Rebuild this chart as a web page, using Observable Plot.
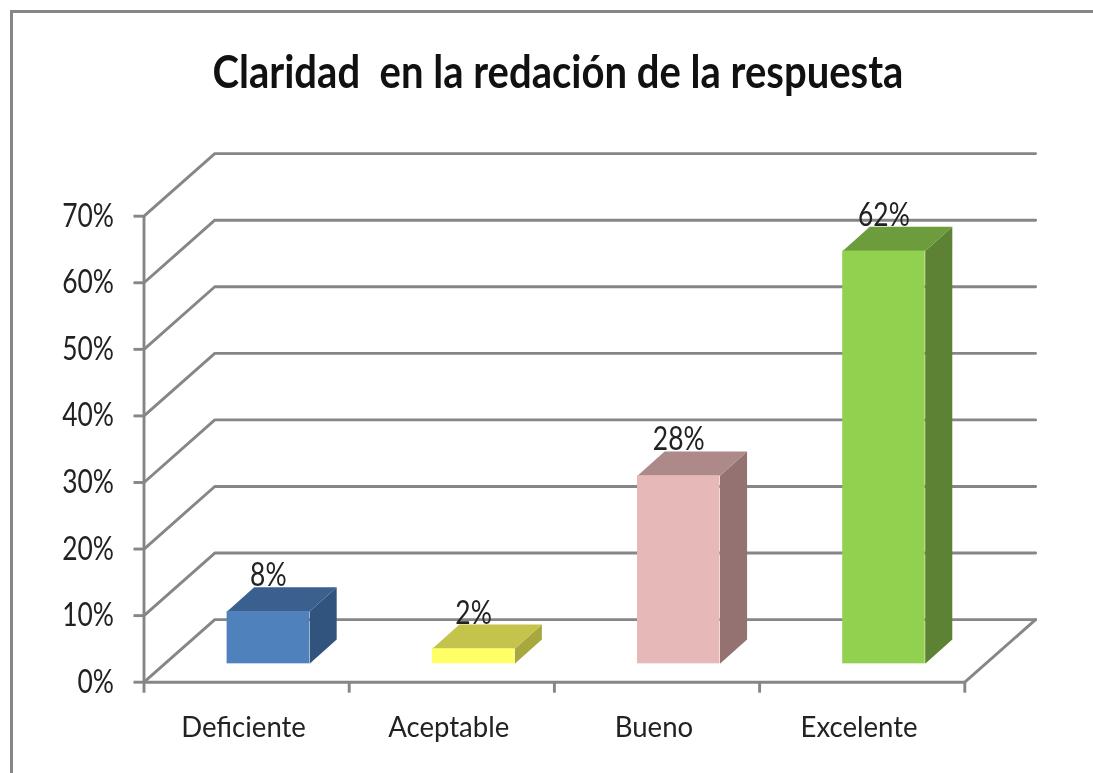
<!DOCTYPE html>
<html lang="es">
<head>
<meta charset="utf-8">
<script src="https://cdn.jsdelivr.net/npm/d3@7"></script>
<script src="https://cdn.jsdelivr.net/npm/@observablehq/plot@0.6"></script>
<style>
  html, body { margin: 0; padding: 0; background: #fff; overflow: hidden; }
  #page { position: relative; width: 1093px; height: 773px; overflow: hidden; filter: blur(0.5px); }
  #frame { position: absolute; left: 10px; top: 10px; width: 1200px; height: 900px;
           border-left: 3px solid #868686; border-top: 3px solid #868686; }
  #title { position: absolute; left: 0; top: -1px; width: 1115px; height: 115px;
           text-align: center; color: #111;
           font: bold 46px/144px Lato, sans-serif; }
  #title span { display: inline-block; white-space: pre; transform-origin: center; }
  #chart { position: absolute; left: 0; top: 115px; }
  svg { display: block; }
</style>
</head>
<body>
<div id="page">
  <div id="frame"></div>
  <div id="title"><span></span></div>
  <div id="chart"></div>
</div>
<script>
const titleText = "Claridad  en la redación de la respuesta";
const categories = ["Deficiente", "Aceptable", "Bueno", "Excelente"];
const values = [7.85, 2.25, 28.25, 62];
const barLabels = ["8%", "2%", "28%", "62%"];
const yTicks = [0, 10, 20, 30, 40, 50, 60, 70];
const xTicks = [0, 1, 2, 3, 4];
const frontColors = ["#4f81bd", "#ffff66", "#e6b8b7", "#92d050"];
const topColors = ["#3a6090", "#c4c44c", "#ad8a89", "#6d9c3c"];
const sideColors = ["#30547d", "#a8a83f", "#947272", "#5e8233"];

// 3D projection expressed in data units
const wallDx = 0.345, wallDy = 9.4;     // depth of the chart box
const barDx = 0.132, barDy = 3.65;      // depth of a bar
const barStart = 0.405, barEnd = 0.807; // bar extent inside a category
const barBase = 2.76;                   // bars stand on the middle of the floor
const grid = "#868686";
const lineWidth = 2.9;
const numberSize = 33, categorySize = 29;
const numberSquash = 0.8, categorySquash = 0.95, titleWidth = 691;

const titleSpan = document.querySelector("#title span");
titleSpan.textContent = titleText;

const marks = [];

// Wall and floor lines
yTicks.forEach(v => {
  marks.push(Plot.line([[0, v], [wallDx, v + wallDy], [4 + wallDx, v + wallDy]], {
    x: d => d[0], y: d => d[1], stroke: grid, strokeWidth: lineWidth
  }));
});
marks.push(Plot.line([[0, 0], [4, 0], [4 + wallDx, wallDy]], {
  x: d => d[0], y: d => d[1], stroke: grid, strokeWidth: lineWidth
}));
marks.push(Plot.ruleX([0], {y1: 0, y2: 70, stroke: grid, strokeWidth: lineWidth}));

// Bars: side, top, front
values.forEach((v, i) => {
  const x0 = i + barStart, x1 = i + barEnd, b = barBase, t = barBase + v;
  const poly = (pts, fill) => Plot.line(pts, {
    x: d => d[0], y: d => d[1], fill, stroke: "none"
  });
  marks.push(poly([[x1, b], [x1 + barDx, b + barDy], [x1 + barDx, t + barDy], [x1, t], [x1, b]], sideColors[i]));
  marks.push(poly([[x0, t], [x0 + barDx, t + barDy], [x1 + barDx, t + barDy], [x1, t], [x0, t]], topColors[i]));
  marks.push(Plot.rect([i], {x1: () => x0, x2: () => x1, y1: () => b, y2: () => t, fill: frontColors[i]}));
});

// Axes
marks.push(Plot.axisY({
  ticks: yTicks, tickFormat: d => d + "%", tickSize: 10, tickPadding: 20,
  stroke: grid, strokeWidth: lineWidth, fontSize: numberSize, color: "#222", label: null
}));
marks.push(Plot.axisX({
  ticks: xTicks, tickFormat: () => "", tickSize: 11,
  stroke: grid, strokeWidth: lineWidth, label: null
}));
marks.push(Plot.text(categories, {
  x: (_, i) => i + 0.485, y: () => 0, dy: 46, text: d => d,
  fontSize: categorySize, fill: "#222"
}));

// Value labels
marks.push(Plot.text(barLabels, {
  x: (_, i) => i + (barStart + barEnd) / 2,
  y: (_, i) => values[i] + barBase + barDy,
  text: d => d, lineAnchor: "bottom", dy: -1,
  fontSize: numberSize, fill: "#222"
}));

const chart = Plot.plot({
  width: 1093,
  height: 658,
  marginLeft: 143.5,
  marginRight: 128.7,
  marginTop: 100.7,
  marginBottom: 91.3,
  style: {background: "transparent", fontFamily: 'Lato, sans-serif'},
  x: {domain: [0, 4], axis: null},
  y: {domain: [0, 70], axis: null},
  marks
});
document.getElementById("chart").appendChild(chart);

// The reference lettering is narrower than any installed face
chart.querySelectorAll("text").forEach(t => {
  const size = parseFloat(getComputedStyle(t).fontSize);
  const k = size === categorySize ? categorySquash : numberSquash;
  t.setAttribute("textLength", t.getComputedTextLength() * k);
  t.setAttribute("lengthAdjust", "spacingAndGlyphs");
});
titleSpan.style.transform = `scaleX(${titleWidth / titleSpan.offsetWidth})`;
</script>
</body>
</html>
